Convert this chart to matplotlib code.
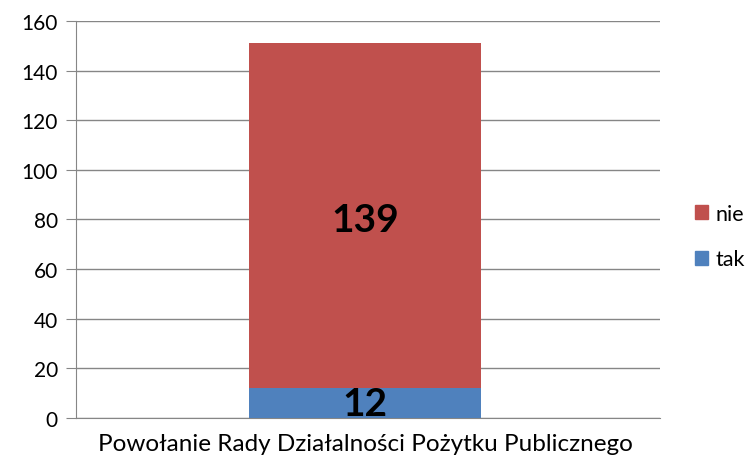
import matplotlib.pyplot as plt
from matplotlib.patches import Patch

plt.rcParams['font.family'] = ['Lato', 'DejaVu Sans']

category = ['Powołanie Rady Działalności Pożytku Publicznego']
tak = [12]
nie = [139]
series_names = ['nie', 'tak']
colors = {'tak': '#4F81BD', 'nie': '#C0504D'}

fig = plt.figure(figsize=(7.55, 4.64), dpi=100)
ax = fig.add_axes([0.1007, 0.097, 0.7733, 0.8556])

x = [0]
b1 = ax.bar(x, tak, width=0.397, color=colors['tak'], zorder=3)
b2 = ax.bar(x, nie, width=0.397, bottom=tak, color=colors['nie'], zorder=3)

for i in range(len(x)):
    ax.text(x[i], tak[i] / 2, str(tak[i]), ha='center', va='center',
            fontsize=28, fontweight='bold', zorder=4)
    ax.text(x[i], tak[i] + nie[i] / 2 - 1.5, str(nie[i]), ha='center', va='center',
            fontsize=28, fontweight='bold', zorder=4)

ax.set_xlim(-0.495, 0.505)
ax.set_ylim(0, 160)
ax.set_yticks(range(0, 161, 20))
ax.set_xticks([0])
ax.set_xticklabels(category)
ax.tick_params(axis='y', labelsize=15, length=7, color='#868686', pad=6)
ax.tick_params(axis='x', labelsize=17.5, length=0, pad=11)
ax.grid(axis='y', color='#868686', linewidth=1, zorder=0)
for s in ['top', 'right']:
    ax.spines[s].set_visible(False)
ax.spines['left'].set_color('#868686')
ax.spines['bottom'].set_color('#868686')

handles = [Patch(color=colors['nie']), Patch(color=colors['tak'])]
fig.legend(handles, series_names, loc='center left', bbox_to_anchor=(0.921, 0.488),
           frameon=False, fontsize=15.5, handlelength=0.6, handleheight=0.6,
           handletextpad=0.35, labelspacing=1.2, borderpad=0, borderaxespad=0)

fig.savefig('out.png', dpi=100)
